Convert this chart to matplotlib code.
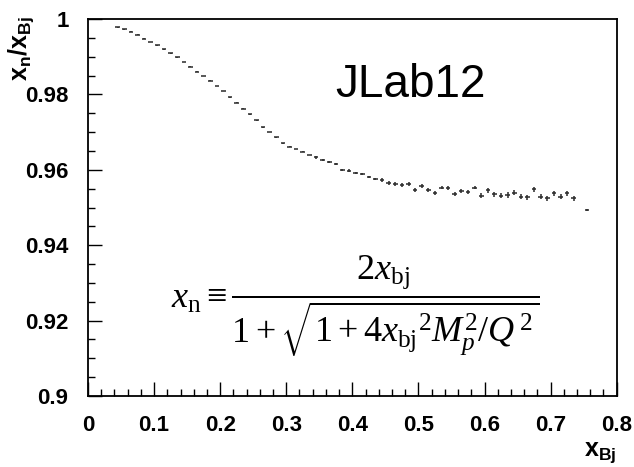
import numpy as np
import matplotlib
matplotlib.use('Agg')
import matplotlib.pyplot as plt
from matplotlib.ticker import MultipleLocator

plt.rcParams['font.family'] = ['Liberation Sans', 'DejaVu Sans']
plt.rcParams['mathtext.fontset'] = 'custom'
plt.rcParams['mathtext.rm'] = 'Liberation Serif'
plt.rcParams['mathtext.it'] = 'Liberation Serif:italic'
plt.rcParams['mathtext.bf'] = 'Liberation Sans:bold'
plt.rcParams['mathtext.sf'] = 'Liberation Sans'

# bin centres in x_Bj (bin 0.74-0.75 is empty)
x_bj = [0.045, 0.055, 0.065, 0.075, 0.085, 0.095, 0.105, 0.115, 0.125, 0.135,
        0.145, 0.155, 0.165, 0.175, 0.185, 0.195, 0.205, 0.215, 0.225, 0.235,
        0.245, 0.255, 0.265, 0.275, 0.285, 0.295, 0.305, 0.315, 0.325, 0.335,
        0.345, 0.355, 0.365, 0.375, 0.385, 0.395, 0.405, 0.415, 0.425, 0.435,
        0.445, 0.455, 0.465, 0.475, 0.485, 0.495, 0.505, 0.515, 0.525, 0.535,
        0.545, 0.555, 0.565, 0.575, 0.585, 0.595, 0.605, 0.615, 0.625, 0.635,
        0.645, 0.655, 0.665, 0.675, 0.685, 0.695, 0.705, 0.715, 0.725, 0.735,
        0.755]

# x_n / x_Bj
ratio = [0.9978, 0.9973, 0.9966, 0.9958, 0.9948, 0.9939, 0.9930, 0.9920, 0.9909, 0.9898,
         0.9886, 0.9874, 0.9860, 0.9849, 0.9836, 0.9822, 0.9809, 0.9792, 0.9778, 0.9762,
         0.9747, 0.9731, 0.9713, 0.9700, 0.9686, 0.9670, 0.9661, 0.9655, 0.9648, 0.9639,
         0.9633, 0.9626, 0.9620, 0.9615, 0.9600, 0.9598, 0.9591, 0.9588, 0.9581, 0.9576,
         0.9573, 0.9566, 0.9562, 0.9560, 0.9562, 0.9546, 0.9557, 0.9546, 0.9538, 0.9553,
         0.9551, 0.9536, 0.9544, 0.9542, 0.9553, 0.9531, 0.9546, 0.9535, 0.9531, 0.9533,
         0.9539, 0.9529, 0.9527, 0.9548, 0.9529, 0.9524, 0.9538, 0.9529, 0.9538, 0.9524,
         0.9493]

# statistical errors (small, grow with x)
ratio_err = [0.0001] * 30 + [0.0003] * 10 + [0.0005] * 15 + [0.0007] * 15 + [0.0002]

xticks = [0, 0.1, 0.2, 0.3, 0.4, 0.5, 0.6, 0.7, 0.8]
xtick_labels = ['0', '0.1', '0.2', '0.3', '0.4', '0.5', '0.6', '0.7', '0.8']
yticks = [0.9, 0.92, 0.94, 0.96, 0.98, 1.0]
ytick_labels = ['0.9', '0.92', '0.94', '0.96', '0.98', '1']

fig = plt.figure(figsize=(6.34, 4.67), dpi=100)
ax = fig.add_axes([0.1388, 0.152, 0.8339, 0.8073])

ax.errorbar(x_bj, ratio, xerr=0.0035, yerr=ratio_err, fmt='none',
            ecolor='#2a2a2a', elinewidth=1.1, capsize=0)

ax.set_xlim(0, 0.8)
ax.set_ylim(0.9, 1.0)
ax.set_xticks(xticks)
ax.set_xticklabels(xtick_labels)
ax.set_yticks(yticks)
ax.set_yticklabels(ytick_labels)
ax.xaxis.set_minor_locator(MultipleLocator(0.02))
ax.yaxis.set_minor_locator(MultipleLocator(0.005))
ax.tick_params(which='both', direction='in', top=False, right=False, width=1)
ax.tick_params(which='major', length=10)
ax.tick_params(which='minor', length=5)
ax.tick_params(axis='x', pad=14)
ax.tick_params(axis='y', pad=14)
for lab in ax.get_xticklabels() + ax.get_yticklabels():
    lab.set_fontsize(16)
    lab.set_fontweight('bold')
for s in ax.spines.values():
    s.set_linewidth(1.3)

fig.text(0.033, 0.965, r'$\mathbf{x_{n}/x_{Bj}}$', rotation=90, fontsize=18,
         ha='center', va='top')
fig.text(0.972, 0.005, r'$\mathbf{x_{Bj}}$', fontsize=18, ha='right', va='bottom')

ax.text(0.61, 0.825, 'JLab12', transform=ax.transAxes, fontsize=33,
        ha='center', va='center')

ax.text(0.505, 0.237,
        r'$x_{\mathrm{n}} \equiv \dfrac{2x_{\mathrm{bj}}}'
        r'{1+\sqrt{1+4{x_{\mathrm{bj}}}^{2}M_{p}^{2}/Q^{\,2}}}$',
        transform=ax.transAxes, fontsize=26, ha='center', va='center')

plt.savefig('out.png', dpi=100)
